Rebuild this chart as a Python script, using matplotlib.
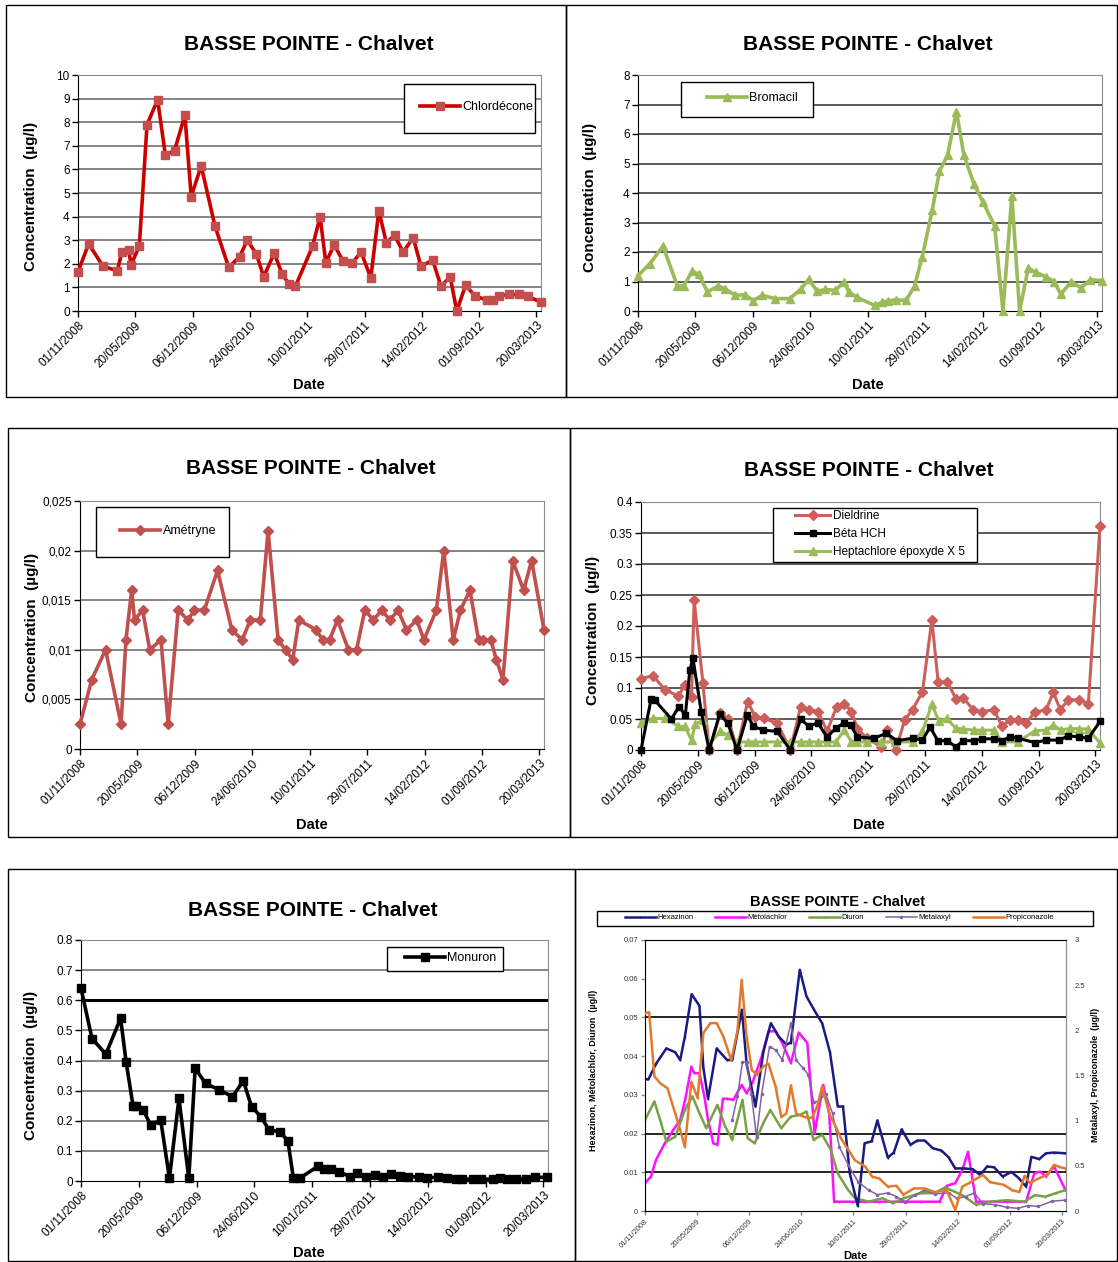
import pandas as pd
import matplotlib.pyplot as plt
from matplotlib.patches import Rectangle

plt.rcParams['font.family'] = ['Liberation Sans Narrow', 'Liberation Sans', 'DejaVu Sans']

# dates de prélèvement : jours écoulés depuis le 01/11/2008
debut = pd.Timestamp('2008-11-01')

# --- Chlordécone
chlor_jours = [0, 37, 87, 137, 153, 177, 185, 214, 241, 278, 305, 337, 373, 395, 430, 478, 526, 564,
               591, 623, 648, 685, 713, 736, 759, 819, 845, 865, 894, 926, 958, 988, 1022, 1050, 1076,
               1105, 1135, 1170, 1197, 1238, 1267, 1299, 1322, 1353, 1384, 1428, 1449, 1471, 1506, 1540,
               1569, 1616]
chlor_val = [1.65, 2.85, 1.9, 1.7, 2.5, 2.6, 1.95, 2.75, 7.9, 8.95, 6.6, 6.8, 8.3, 4.85, 6.15, 3.6, 1.85,
             2.3, 3.0, 2.4, 1.45, 2.45, 1.55, 1.15, 1.05, 2.75, 4.0, 2.05, 2.8, 2.1, 2.05, 2.5, 1.4, 4.25,
             2.9, 3.2, 2.5, 3.1, 1.9, 2.15, 1.05, 1.45, 0.0, 1.1, 0.65, 0.45, 0.48, 0.65, 0.7, 0.7, 0.62, 0.38]

# --- Bromacil
brom_jours = [0, 41, 87, 137, 159, 189, 211, 242, 280, 304, 339, 373, 401, 432, 478, 528, 566, 594, 624,
              653, 687, 717, 735, 761, 824, 851, 872, 898, 934, 963, 990, 1025, 1050, 1078, 1109, 1135,
              1170, 1201, 1242, 1271, 1302, 1329, 1359, 1386, 1422, 1450, 1472, 1509, 1543, 1575, 1616]
brom_val = [1.2, 1.6, 2.2, 0.85, 0.85, 1.35, 1.25, 0.65, 0.85, 0.75, 0.53, 0.55, 0.35, 0.53, 0.42, 0.42,
            0.73, 1.07, 0.67, 0.73, 0.7, 0.98, 0.64, 0.47, 0.19, 0.3, 0.34, 0.38, 0.36, 0.84, 1.84, 3.43,
            4.74, 5.28, 6.76, 5.28, 4.31, 3.7, 2.89, 0.0, 3.9, 0.0, 1.45, 1.31, 1.15, 1.0, 0.56, 1.0, 0.78,
            1.06, 1.03]

# --- Amétryne
amet_jours = [0, 41, 89, 143, 160, 180, 190, 218, 243, 282, 307, 342, 376, 398, 433, 479, 529, 565, 593,
              628, 655, 690, 716, 741, 762, 823, 845, 869, 897, 935, 963, 992, 1022, 1051, 1079, 1108,
              1137, 1173, 1198, 1241, 1267, 1300, 1325, 1358, 1388, 1403, 1431, 1450, 1473, 1507, 1545,
              1573, 1616]
amet_val = [0.0025, 0.007, 0.01, 0.0025, 0.011, 0.016, 0.013, 0.014, 0.01, 0.011, 0.0025, 0.014, 0.013,
            0.014, 0.014, 0.018, 0.012, 0.011, 0.013, 0.013, 0.022, 0.011, 0.01, 0.009, 0.013, 0.012,
            0.011, 0.011, 0.013, 0.01, 0.01, 0.014, 0.013, 0.014, 0.013, 0.014, 0.012, 0.013, 0.011,
            0.014, 0.02, 0.011, 0.014, 0.016, 0.011, 0.011, 0.011, 0.009, 0.007, 0.019, 0.016, 0.019, 0.012]

# --- Dieldrine, Béta HCH, Heptachlore époxyde
diel_jours = [0, 42, 85, 132, 154, 178, 187, 218, 240, 279, 308, 338, 375, 402, 433, 480, 526, 562, 593,
              624, 655, 689, 716, 741, 762, 796, 846, 866, 897, 928, 956, 991, 1024, 1046, 1079, 1108,
              1135, 1169, 1200, 1243, 1271, 1298, 1326, 1356, 1387, 1426, 1452, 1476, 1505, 1542, 1575, 1616]
diel_val = [0.115, 0.12, 0.097, 0.087, 0.105, 0.086, 0.242, 0.108, 0.0, 0.059, 0.05, 0.0, 0.078, 0.054,
            0.051, 0.043, 0.0, 0.07, 0.065, 0.062, 0.03, 0.07, 0.075, 0.062, 0.034, 0.019, 0.005, 0.032,
            0.0, 0.048, 0.065, 0.094, 0.21, 0.11, 0.11, 0.083, 0.084, 0.065, 0.062, 0.065, 0.038, 0.048,
            0.048, 0.044, 0.061, 0.065, 0.093, 0.065, 0.081, 0.081, 0.074, 0.362]

hch_jours = [0, 36, 49, 107, 134, 156, 172, 183, 212, 240, 277, 306, 338, 374, 396, 431, 479, 526, 562,
             591, 622, 655, 686, 716, 738, 762, 821, 864, 901, 956, 991, 1018, 1045, 1079, 1108, 1135,
             1172, 1202, 1243, 1271, 1298, 1326, 1387, 1426, 1473, 1505, 1542, 1575, 1616]
hch_val = [0.0, 0.083, 0.08, 0.05, 0.07, 0.056, 0.129, 0.148, 0.062, 0.0, 0.058, 0.043, 0.0, 0.056, 0.038,
           0.032, 0.03, 0.0, 0.05, 0.038, 0.044, 0.021, 0.035, 0.044, 0.04, 0.021, 0.019, 0.027, 0.015,
           0.019, 0.016, 0.037, 0.015, 0.015, 0.005, 0.015, 0.015, 0.018, 0.018, 0.015, 0.021, 0.019,
           0.012, 0.016, 0.016, 0.023, 0.021, 0.019, 0.046]

hepta_jours = [0, 42, 85, 132, 154, 178, 191, 218, 240, 279, 306, 338, 375, 402, 433, 480, 526, 562, 593,
               624, 655, 686, 716, 741, 762, 796, 846, 895, 956, 991, 1024, 1049, 1077, 1108, 1135, 1172,
               1202, 1243, 1271, 1326, 1387, 1426, 1452, 1479, 1510, 1542, 1575, 1616]
hepta_val = [0.044, 0.051, 0.051, 0.038, 0.038, 0.016, 0.042, 0.048, 0.009, 0.03, 0.024, 0.013, 0.013,
             0.013, 0.013, 0.013, 0.013, 0.013, 0.013, 0.013, 0.013, 0.013, 0.032, 0.013, 0.013, 0.013,
             0.013, 0.013, 0.013, 0.03, 0.074, 0.046, 0.051, 0.035, 0.034, 0.032, 0.032, 0.032, 0.013,
             0.013, 0.031, 0.032, 0.04, 0.032, 0.035, 0.034, 0.034, 0.011]

# --- Monuron
mono_jours = [0, 38, 86, 137, 156, 180, 190, 215, 241, 276, 306, 339, 373, 395, 431, 479, 524, 562, 590,
              623, 651, 688, 716, 735, 757, 821, 840, 865, 893, 931, 956, 985, 1017, 1045, 1074, 1104,
              1131, 1169, 1197, 1235, 1267, 1298, 1320, 1355, 1384, 1425, 1450, 1473, 1505, 1541, 1571, 1612]
mono_val = [0.64, 0.473, 0.421, 0.54, 0.396, 0.25, 0.25, 0.236, 0.186, 0.202, 0.009, 0.274, 0.009, 0.374,
            0.324, 0.302, 0.28, 0.332, 0.247, 0.213, 0.169, 0.164, 0.133, 0.009, 0.009, 0.05, 0.04, 0.04,
            0.031, 0.014, 0.025, 0.014, 0.02, 0.014, 0.022, 0.018, 0.014, 0.014, 0.009, 0.014, 0.009,
            0.006, 0.006, 0.006, 0.006, 0.006, 0.011, 0.006, 0.006, 0.006, 0.012, 0.012]

# --- Hexazinon, Métolachlor, Diuron (axe gauche), Metalaxyl, Propiconazole (axe droit)
hexa_jours = [0, 13, 42, 82, 116, 135, 153, 179, 209, 224, 242, 275, 315, 335, 372, 390, 424, 454, 483,
              514, 543, 560, 594, 620, 653, 680, 710, 740, 760, 786, 817, 843, 870, 892, 932, 955, 985,
              1019, 1045, 1074, 1105, 1138, 1165, 1191, 1224, 1258, 1287, 1313, 1340, 1373, 1406, 1433,
              1463, 1483, 1513, 1539, 1570, 1614]
hexa_val = [0.034, 0.034, 0.038, 0.042, 0.041, 0.039, 0.045, 0.056, 0.053, 0.037, 0.029, 0.042, 0.039,
            0.039, 0.052, 0.038, 0.027, 0.041, 0.0485, 0.045, 0.043, 0.0435, 0.0623, 0.0554, 0.0515,
            0.0485, 0.041, 0.027, 0.027, 0.0097, 0.0013, 0.0175, 0.018, 0.0234, 0.0138, 0.0151, 0.0211,
            0.0171, 0.0182, 0.0182, 0.0162, 0.0156, 0.0139, 0.011, 0.011, 0.0108, 0.0093, 0.0115, 0.0113,
            0.0089, 0.0101, 0.0086, 0.0063, 0.014, 0.0134, 0.0149, 0.0151, 0.0149]

meto_jours = [0, 23, 42, 76, 109, 135, 155, 178, 189, 209, 228, 242, 262, 278, 299, 315, 339, 371, 390,
              414, 448, 474, 501, 527, 560, 590, 623, 651, 684, 707, 726, 746, 793, 846, 899, 952, 1005,
              1058, 1131, 1158, 1191, 1218, 1240, 1271, 1324, 1390, 1463, 1494, 1517, 1539, 1570, 1614]
meto_val = [0.0072, 0.0089, 0.0132, 0.0175, 0.021, 0.0235, 0.029, 0.0373, 0.0356, 0.0356, 0.0296, 0.0235,
            0.0175, 0.0171, 0.029, 0.029, 0.0287, 0.0326, 0.0304, 0.0334, 0.0399, 0.0464, 0.0464, 0.0434,
            0.0382, 0.0461, 0.0434, 0.0201, 0.0326, 0.0253, 0.0024, 0.0024, 0.0024, 0.0024, 0.0024,
            0.0024, 0.0024, 0.0024, 0.0024, 0.0065, 0.0072, 0.0106, 0.0153, 0.0024, 0.0024, 0.0024,
            0.0024, 0.0097, 0.0102, 0.0089, 0.0115, 0.0054]

diur_jours = [0, 36, 60, 82, 116, 153, 182, 209, 235, 278, 308, 335, 374, 394, 421, 454, 481, 523, 560,
              594, 620, 647, 680, 713, 740, 780, 806, 859, 912, 952, 992, 1058, 1112, 1151, 1218, 1271,
              1324, 1390, 1456, 1497, 1537, 1576, 1614]
diur_val = [0.0235, 0.0283, 0.0231, 0.0179, 0.0192, 0.0261, 0.0296, 0.0253, 0.0214, 0.0274, 0.0218,
            0.0184, 0.0287, 0.0188, 0.0175, 0.0227, 0.0261, 0.0214, 0.0244, 0.0248, 0.0257, 0.0184,
            0.0197, 0.0158, 0.0097, 0.0054, 0.0033, 0.0024, 0.0033, 0.002, 0.0033, 0.0046, 0.0046,
            0.0061, 0.0041, 0.0016, 0.0024, 0.0028, 0.0024, 0.0041, 0.0037, 0.0046, 0.0054]

meta_jours = [335, 355, 374, 390, 408, 428, 448, 478, 503, 527, 560, 580, 607, 627, 647, 667, 693, 720,
              746, 780, 819, 859, 892, 932, 965, 999, 1038, 1072, 1112, 1165, 1198, 1231, 1264, 1297,
              1344, 1390, 1430, 1470, 1510, 1563, 1614]
meta_val = [1.01, 1.27, 1.65, 1.65, 1.30, 0.82, 1.30, 1.82, 1.78, 1.67, 2.08, 1.67, 1.58, 1.51, 1.21,
            1.21, 1.30, 1.08, 0.71, 0.51, 0.32, 0.23, 0.18, 0.20, 0.16, 0.10, 0.18, 0.23, 0.19, 0.20,
            0.14, 0.16, 0.20, 0.08, 0.07, 0.04, 0.03, 0.06, 0.05, 0.11, 0.12]

prop_jours = [0, 16, 36, 60, 86, 116, 135, 153, 178, 202, 224, 251, 275, 301, 331, 355, 371, 390, 410,
              430, 454, 474, 501, 523, 543, 560, 580, 613, 640, 660, 680, 707, 733, 753, 780, 806, 846,
              872, 899, 932, 965, 992, 1032, 1072, 1112, 1158, 1191, 1218, 1244, 1297, 1324, 1377, 1410,
              1437, 1457, 1477, 1510, 1543, 1570, 1589, 1614]
prop_val = [2.19, 2.20, 1.49, 1.41, 1.36, 1.08, 0.90, 0.71, 1.43, 1.25, 1.97, 2.08, 2.08, 1.93, 1.67,
            2.0, 2.56, 1.93, 1.56, 1.51, 1.60, 1.63, 1.38, 1.04, 1.08, 1.39, 1.08, 1.04, 1.03, 1.15,
            1.38, 1.08, 0.93, 0.80, 0.68, 0.56, 0.49, 0.38, 0.36, 0.27, 0.28, 0.18, 0.25, 0.25, 0.21,
            0.23, 0.01, 0.27, 0.31, 0.40, 0.32, 0.29, 0.23, 0.21, 0.39, 0.31, 0.36, 0.40, 0.51, 0.49, 0.47]

# graduations des axes y
chlor_yticks = list(range(0, 11))
brom_yticks = list(range(0, 9))
amet_yticks = [0, 0.005, 0.01, 0.015, 0.02, 0.025]
amet_ylabels = ['0', '0,005', '0,01', '0,015', '0,02', '0,025']
diel_yticks = [0, 0.05, 0.1, 0.15, 0.2, 0.25, 0.3, 0.35, 0.4]
diel_ylabels = ['0', '0.05', '0.1', '0.15', '0.2', '0.25', '0.3', '0.35', '0.4']
mono_yticks = [0, 0.1, 0.2, 0.3, 0.4, 0.5, 0.6, 0.7, 0.8]
mono_ylabels = ['0', '0.1', '0.2', '0.3', '0.4', '0.5', '0.6', '0.7', '0.8']
mix_yticks = [0, 0.01, 0.02, 0.03, 0.04, 0.05, 0.06, 0.07]
mix_ylabels = ['0', '0.01', '0.02', '0.03', '0.04', '0.05', '0.06', '0.07']
mix_y2ticks = [0, 0.5, 1, 1.5, 2, 2.5, 3]
mix_y2labels = ['0', '0.5', '1', '1.5', '2', '2.5', '3']

titre = 'BASSE POINTE - Chalvet'
ylab = 'Concentration  (µg/l)'

W, H = 1118, 1262
fig = plt.figure(figsize=(W / 100, H / 100), dpi=100)

tick_dates = [debut + pd.Timedelta(days=200 * k) for k in range(9)]
tick_labels = [d.strftime('%d/%m/%Y') for d in tick_dates]
fin = debut + pd.Timedelta(days=1616)


def dates(jours):
    return debut + pd.to_timedelta(jours, unit='D')


def px_box(l, t, r, b):
    return [l / W, 1 - b / H, (r - l) / W, (b - t) / H]


def cadre(l, t, r, b):
    fig.add_artist(Rectangle((l / W, 1 - b / H), (r - l) / W, (b - t) / H,
                             transform=fig.transFigure, fill=False, edgecolor='black', linewidth=1))


def texte(x, y, s, size, rot=0, family='Liberation Sans'):
    fig.text(x / W, 1 - y / H, s, ha='center', va='center', fontsize=size, fontweight='bold',
             rotation=rot, family=[family, 'DejaVu Sans'])


def preparer(ax, yticks, ylabels, fs=8.5, grille=None, gris='#707070'):
    ax.set_xlim(debut, fin)
    ax.set_ylim(yticks[0], yticks[-1])
    ax.set_xticks(tick_dates)
    ax.set_xticklabels(tick_labels, rotation=45, ha='right', rotation_mode='anchor', fontsize=fs)
    ax.set_yticks(yticks)
    ax.set_yticklabels(ylabels, fontsize=fs)
    ax.tick_params(direction='out', length=4, width=1, pad=2)
    for s in ('top', 'right'):
        ax.spines[s].set_color('#8c8c8c')
    for s in ('left', 'bottom'):
        ax.spines[s].set_color('black')
    if grille is None:
        grille = yticks[1:-1]
    for v in grille:
        ax.axhline(v, color=gris, lw=1.2, zorder=0)


def legende(ax, x, y, box, handles=None, fs=9, hl=3.2, ncol=1, ls=0.3, cs=2.0):
    ax.add_patch(Rectangle((box[0] / W, 1 - box[3] / H), (box[2] - box[0]) / W, (box[3] - box[1]) / H,
                           transform=fig.transFigure, facecolor='white', edgecolor='black',
                           linewidth=1, zorder=5, clip_on=False))
    kw = {} if handles is None else {'handles': handles}
    leg = ax.legend(loc='upper left', bbox_to_anchor=(x / W, 1 - y / H), bbox_transform=fig.transFigure,
                    frameon=False, fontsize=fs, handlelength=hl, handletextpad=0.2, borderpad=0,
                    borderaxespad=0, labelspacing=ls, numpoints=1, ncol=ncol, columnspacing=cs, **kw)
    leg.set_zorder(6)


# cadres des six graphiques
cadre(6, 5, 566, 397)
cadre(566, 5, 1117, 397)
cadre(8, 428, 570, 837)
cadre(570, 428, 1117, 837)
cadre(8, 869, 575, 1261)
cadre(575, 869, 1117, 1261)

# 1 - Chlordécone
ax1 = fig.add_axes(px_box(78, 75, 541, 311))
preparer(ax1, chlor_yticks, [str(v) for v in chlor_yticks])
ax1.plot(dates(chlor_jours), chlor_val, color='#CC0000', lw=2.6, marker='s', ms=5.5,
         mfc='#C44E4E', mec='#C44E4E', label='Chlordécone', clip_on=False, zorder=3)
legende(ax1, 420, 101, (404, 84, 535, 133))
texte(309, 44, titre, 15)
texte(31, 196, ylab, 11, rot=90)
texte(309, 385, 'Date', 10.5)

# 2 - Bromacil
ax2 = fig.add_axes(px_box(638, 75, 1102, 311))
preparer(ax2, brom_yticks, [str(v) for v in brom_yticks], gris='#404040')
ax2.plot(dates(brom_jours), brom_val, color='#9BBB59', lw=2.6, marker='^', ms=6,
         mfc='#9BBB59', mec='#9BBB59', label='Bromacil', clip_on=False, zorder=3)
legende(ax2, 707, 92, (681, 82, 813, 117))
texte(868, 44, titre, 15)
texte(590, 197, ylab, 11, rot=90)
texte(868, 385, 'Date', 10.5)

# 3 - Amétryne
ax3 = fig.add_axes(px_box(80, 501, 544, 749))
preparer(ax3, amet_yticks, amet_ylabels)
ax3.plot(dates(amet_jours), amet_val, color='#C0504D', lw=2.6, marker='D', ms=5.5,
         mfc='#C0504D', mec='#C0504D', label='Amétryne', clip_on=False, zorder=3)
legende(ax3, 120, 525, (96, 507, 229, 557))
texte(311, 468, titre, 15)
texte(32, 627, ylab, 11, rot=90)
texte(312, 825, 'Date', 10.5)

# 4 - Dieldrine, Béta HCH, Heptachlore époxyde
ax4 = fig.add_axes(px_box(641, 502, 1100, 750))
preparer(ax4, diel_yticks, diel_ylabels, gris='#404040')
ax4.plot(dates(diel_jours), diel_val, color='#CD5F5B', lw=2.2, marker='D', ms=5,
         mfc='#CD5F5B', mec='#CD5F5B', label='Dieldrine', clip_on=False, zorder=3)
ax4.plot(dates(hch_jours), hch_val, color='black', lw=2.2, marker='s', ms=5,
         mfc='black', mec='black', label='Béta HCH', clip_on=False, zorder=4)
ax4.plot(dates(hepta_jours), hepta_val, color='#9BBB59', lw=2.2, marker='^', ms=5.5,
         mfc='#9BBB59', mec='#9BBB59', label='Heptachlore époxyde X 5', clip_on=False, zorder=3)
legende(ax4, 795, 510, (773, 508, 977, 562), fs=8.5, hl=3.0, ls=0.5)
texte(869, 470, titre, 15)
texte(593, 630, ylab, 11, rot=90)
texte(869, 825, 'Date', 10.5)

# 5 - Monuron
ax5 = fig.add_axes(px_box(81, 940, 548, 1181))
preparer(ax5, mono_yticks, mono_ylabels, grille=[0.1, 0.2, 0.3, 0.4, 0.5, 0.7])
ax5.axhline(0.6, color='black', lw=2.2, zorder=0)
ax5.plot(dates(mono_jours), mono_val, color='black', lw=2.6, marker='s', ms=5.5,
         mfc='black', mec='black', label='Monuron', clip_on=False, zorder=3)
legende(ax5, 405, 952, (387, 947, 503, 971))
texte(313, 910, titre, 15)
texte(31, 1065, ylab, 11, rot=90)
texte(309, 1253, 'Date', 10.5)

# 6 - Hexazinon, Métolachlor, Diuron / Metalaxyl, Propiconazole
ax6 = fig.add_axes(px_box(645, 940, 1066, 1211))
preparer(ax6, mix_yticks, mix_ylabels, fs=5.5, grille=[0.01, 0.02, 0.05], gris='black')
for s in ax6.spines.values():
    s.set_color('#8c8c8c')
ax6.tick_params(length=3, color='#8c8c8c', labelcolor='#333333')
ax6b = ax6.twinx()
ax6b.set_position(px_box(645, 940, 1066, 1211))
ax6b.set_ylim(0, 3)
ax6b.set_yticks(mix_y2ticks)
ax6b.set_yticklabels(mix_y2labels, fontsize=5.5)
ax6b.tick_params(direction='out', length=0, pad=6, labelcolor='#333333')
ax6b.spines['right'].set_color('#8c8c8c')

h1, = ax6.plot(dates(hexa_jours), hexa_val, color='#1A1A80', lw=1.8, marker='|', ms=2,
               label='Hexazinon', zorder=4)
h2, = ax6.plot(dates(meto_jours), meto_val, color='#FF10FF', lw=1.8, marker='|', ms=2,
               label='Métolachlor', zorder=3)
h3, = ax6.plot(dates(diur_jours), diur_val, color='#77A145', lw=1.8, marker='|', ms=2,
               label='Diuron', zorder=3)
h4, = ax6b.plot(dates(meta_jours), meta_val, color='#8064A2', lw=1.1, marker='.', ms=3,
                label='Metalaxyl', zorder=3)
h5, = ax6b.plot(dates(prop_jours), prop_val, color='#E07B2E', lw=1.8, marker='|', ms=2,
                label='Propiconazole', zorder=3)
legende(ax6b, 625, 914, (597, 911, 1093, 926), handles=[h1, h2, h3, h4, h5],
        fs=5.5, hl=4.0, ncol=5, cs=2.9)
texte(838, 902, titre, 10.5)
texte(593, 1070, 'Hexazinon, Métolachlor, Diuron  (µg/l)', 6.5, rot=90)
texte(1095, 1075, 'Metalaxyl, Propiconazole  (µg/l)', 6.5, rot=90)
texte(855, 1256, 'Date', 8)

fig.savefig('out.png', dpi=100)
